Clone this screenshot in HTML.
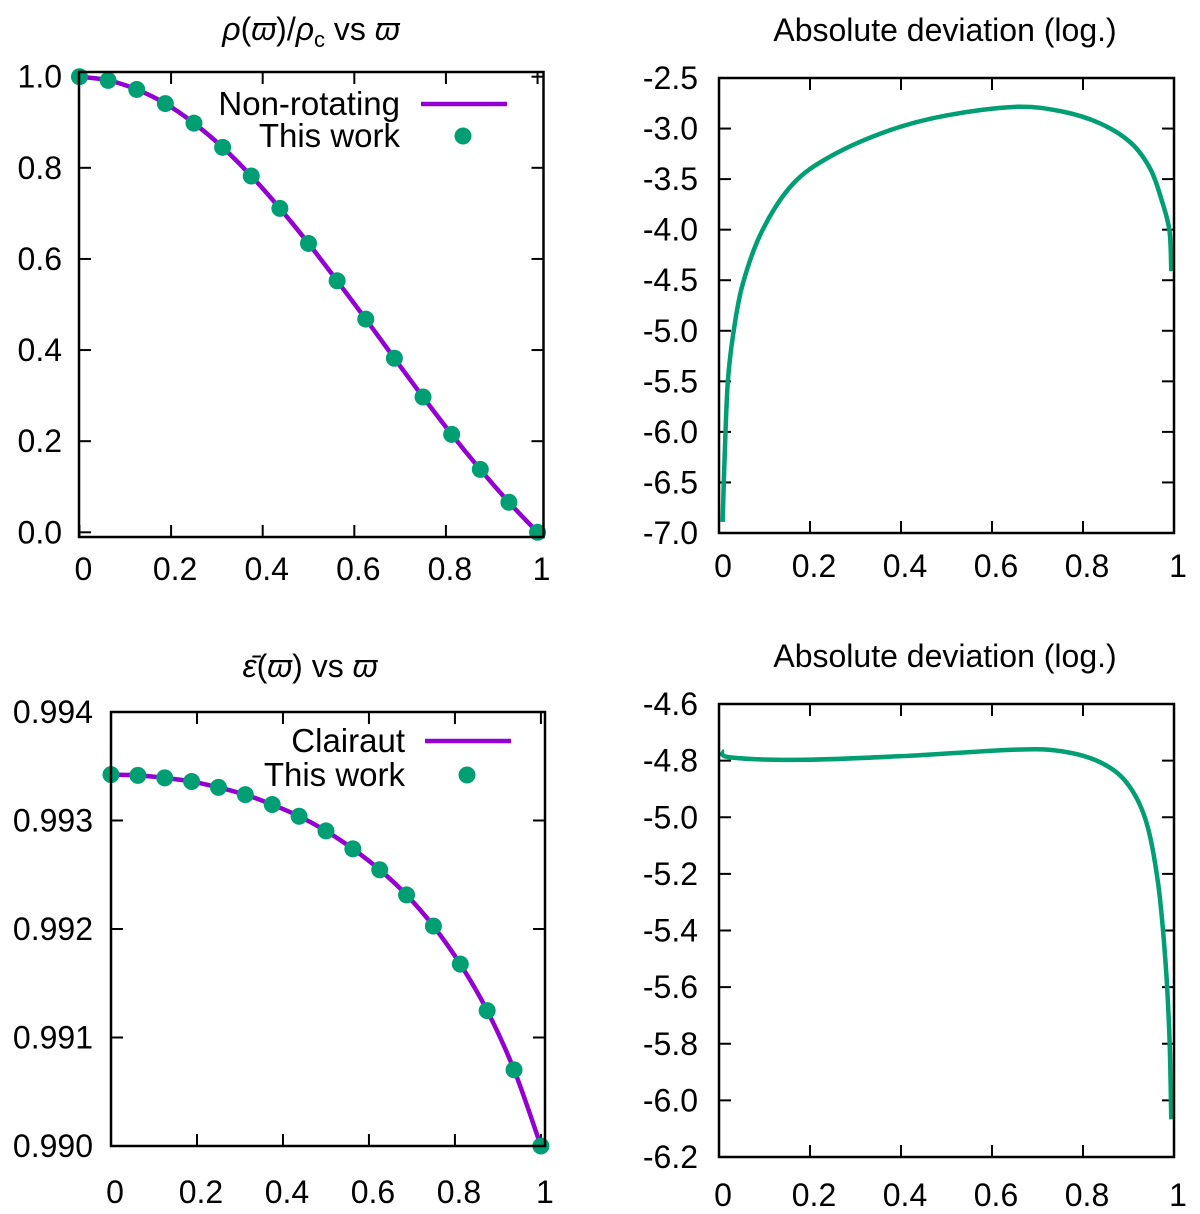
<!DOCTYPE html>
<html><head><meta charset="utf-8"><style>
html,body{margin:0;padding:0;background:#fff;}
svg{display:block;font-family:"Liberation Sans",sans-serif;}
</style></head><body>
<svg id="fig" width="1200" height="1214" viewBox="0 0 1200 1214" xmlns="http://www.w3.org/2000/svg"></svg>
<script>
// ---------- data ----------
const rhoX = [0,0.0625,0.125,0.1875,0.25,0.3125,0.375,0.4375,0.5,0.5625,0.625,0.6875,0.75,0.8125,0.875,0.9375,1];
const rhoRef = [1.0,0.992,0.972,0.941,0.898,0.845,0.782,0.711,0.634,0.552,0.468,0.382,0.297,0.215,0.138,0.066,0.0];
const rhoWork = [1.0,0.992,0.972,0.941,0.898,0.845,0.782,0.711,0.634,0.552,0.468,0.382,0.297,0.215,0.138,0.066,0.0];
const epsX = [0,0.0625,0.125,0.1875,0.25,0.3125,0.375,0.4375,0.5,0.5625,0.625,0.6875,0.75,0.8125,0.875,0.9375,1];
const epsRef = [0.993423,0.993416,0.993393,0.993359,0.993305,0.993238,0.993147,0.993039,0.992904,0.992739,0.992546,0.992314,0.992027,0.991676,0.991248,0.990702,0.990];
const epsWork = [0.993423,0.993416,0.993393,0.993359,0.993305,0.993238,0.993147,0.993039,0.992904,0.992739,0.992546,0.992314,0.992027,0.991676,0.991248,0.990702,0.990];
const devRhoX = [0.008,0.012,0.019,0.031,0.052,0.095,0.162,0.247,0.373,0.5,0.652,0.753,0.838,0.905,0.948,0.973,0.99,0.994];
const devRhoY = [-6.89,-6.30,-5.53,-5.04,-4.54,-4.01,-3.55,-3.27,-3.02,-2.87,-2.785,-2.83,-2.95,-3.14,-3.40,-3.71,-4.01,-4.41];
const devEpsX = [0.006,0.027,0.188,0.416,0.652,0.753,0.838,0.897,0.939,0.965,0.981,0.99,0.994];
const devEpsY = [-4.765,-4.789,-4.797,-4.783,-4.761,-4.767,-4.806,-4.88,-5.016,-5.233,-5.504,-5.776,-6.067];
const xTicks = [0,0.2,0.4,0.6,0.8,1];
const xTickLabels = ["0","0.2","0.4","0.6","0.8","1"];
const rhoYTicks = [0,0.2,0.4,0.6,0.8,1.0];
const rhoYLabels = ["0.0","0.2","0.4","0.6","0.8","1.0"];
const epsYTicks = [0.990,0.991,0.992,0.993,0.994];
const epsYLabels = ["0.990","0.991","0.992","0.993","0.994"];
const dRhoYTicks = [-7,-6.5,-6,-5.5,-5,-4.5,-4,-3.5,-3,-2.5];
const dRhoYLabels = ["-7.0","-6.5","-6.0","-5.5","-5.0","-4.5","-4.0","-3.5","-3.0","-2.5"];
const dEpsYTicks = [-6.2,-6.0,-5.8,-5.6,-5.4,-5.2,-5.0,-4.8,-4.6];
const dEpsYLabels = ["-6.2","-6.0","-5.8","-5.6","-5.4","-5.2","-5.0","-4.8","-4.6"];

const NS="http://www.w3.org/2000/svg";
const svg=document.getElementById('fig');
const PURPLE="#9400d3", GREEN="#009e73";
const FS=32;
function mk(tag,attrs,parent){const e=document.createElementNS(NS,tag);for(const k in attrs)e.setAttribute(k,attrs[k]);(parent||svg).appendChild(e);return e;}
function smoothPath(pts){
  let d="M"+pts[0][0].toFixed(2)+","+pts[0][1].toFixed(2);
  for(let i=0;i<pts.length-1;i++){
    const p0=pts[Math.max(i-1,0)],p1=pts[i],p2=pts[i+1],p3=pts[Math.min(i+2,pts.length-1)];
    const c1=[p1[0]+(p2[0]-p0[0])/6,p1[1]+(p2[1]-p0[1])/6];
    const c2=[p2[0]-(p3[0]-p1[0])/6,p2[1]-(p3[1]-p1[1])/6];
    d+=" C"+c1[0].toFixed(2)+","+c1[1].toFixed(2)+" "+c2[0].toFixed(2)+","+c2[1].toFixed(2)+" "+p2[0].toFixed(2)+","+p2[1].toFixed(2);
  }
  return d;
}
function panel(cfg){
  const g=mk('g',{});
  
  
  const sx=v=>cfg.x0+(v-cfg.xmin)/(cfg.xmax-cfg.xmin)*(cfg.x1-cfg.x0);
  const sy=v=>cfg.y1-(v-cfg.ymin)/(cfg.ymax-cfg.ymin)*(cfg.y1-cfg.y0);
  const tg=mk('g',{stroke:'#000','stroke-width':2},g);
  
  
  cfg.xt.forEach((v,i)=>{
    const x=sx(v);
    mk('line',{x1:x,y1:cfg.y1,x2:x,y2:cfg.y1-12},tg);
    mk('line',{x1:x,y1:cfg.y0,x2:x,y2:cfg.y0+12},tg);
    const t=mk('text',{x:x+4,y:cfg.xlabY,'text-anchor':'middle','font-size':FS,fill:'#000',stroke:'none'},g);
    t.textContent=cfg.xl[i];
    
    
  });
  cfg.yt.forEach((v,i)=>{
    const y=sy(v);
    mk('line',{x1:cfg.x0,y1:y,x2:cfg.x0+12,y2:y},tg);
    mk('line',{x1:cfg.x1,y1:y,x2:cfg.x1-12,y2:y},tg);
    const t=mk('text',{x:cfg.ylabX,y:y+11,'text-anchor':'end','font-size':FS,fill:'#000'},g);
    t.textContent=cfg.yl[i];
    
    
  });
  if(cfg.lx){
    const pts=cfg.lx.map((v,i)=>[sx(v),sy(cfg.ly[i])]);
    const p=mk('path',{d:smoothPath(pts),fill:'none',stroke:cfg.lc,'stroke-width':4.5,'stroke-linejoin':'round'},g);
    
    
  }
  if(cfg.px){
    cfg.px.forEach((v,i)=>{
      const c=mk('circle',{cx:sx(v),cy:sy(cfg.py[i]),r:8.5,fill:GREEN},g);
      
      
    });
  }
  const f=mk('rect',{x:cfg.x0,y:cfg.y0,width:cfg.x1-cfg.x0,height:cfg.y1-cfg.y0,fill:'none',stroke:'#000','stroke-width':2.5},g);
  
  
  const tt=mk('text',{x:cfg.titleX,y:cfg.titleY,'text-anchor':'middle','font-size':FS,fill:'#000'},g);
  tt.innerHTML=cfg.title;
  
  
  if(cfg.leg){
    const lg=mk('g',{},g);
    
    
    const a=mk('text',{x:cfg.leg.tx,y:cfg.leg.y1+11,'text-anchor':'end','font-size':33,fill:'#000'},lg);
    a.textContent=cfg.leg.label;
    
    
    mk('line',{x1:cfg.leg.lx1,y1:cfg.leg.y1,x2:cfg.leg.lx2,y2:cfg.leg.y1,stroke:PURPLE,'stroke-width':4.5},lg);
    const b=mk('text',{x:cfg.leg.tx,y:cfg.leg.y2+11,'text-anchor':'end','font-size':33,fill:'#000'},lg);
    b.textContent='This work';
    
    
    mk('circle',{cx:cfg.leg.dx,cy:cfg.leg.y2,r:8.5,fill:GREEN},lg);
  }
}
panel({name:'density-panel',x0:79,x1:543.5,y0:72,y1:537,xmin:-0.001,xmax:1.013,ymin:-0.0103,ymax:1.0103,
  xt:xTicks,xl:xTickLabels,yt:rhoYTicks,yl:rhoYLabels,xlabY:580,ylabX:62,
  lx:rhoX,ly:rhoRef,lc:PURPLE,px:rhoX,py:rhoWork,
  titleX:311,titleY:40,title:'<tspan font-style="italic">ρ</tspan>(<tspan font-style="italic">ϖ</tspan>)/<tspan font-style="italic">ρ</tspan><tspan font-size="22" dy="7">c</tspan><tspan dy="-7"> vs </tspan><tspan font-style="italic">ϖ</tspan>',
  leg:{label:'Non-rotating',tx:400,y1:104,y2:136,lx1:421,lx2:507,dx:463}});
panel({name:'density-deviation-panel',x0:719,x1:1174,y0:78,y1:533,xmin:0,xmax:1,ymin:-7,ymax:-2.5,
  xt:xTicks,xl:xTickLabels,yt:dRhoYTicks,yl:dRhoYLabels,xlabY:577,ylabX:698,
  lx:devRhoX,ly:devRhoY,lc:GREEN,
  titleX:945,titleY:41,title:'Absolute deviation (log.)'});
panel({name:'ellipticity-panel',x0:111,x1:545,y0:712,y1:1146,xmin:0,xmax:1.0095,ymin:0.990,ymax:0.994,
  xt:xTicks,xl:xTickLabels,yt:epsYTicks,yl:epsYLabels,xlabY:1203,ylabX:93,
  lx:epsX,ly:epsRef,lc:PURPLE,px:epsX,py:epsWork,
  titleX:310,titleY:677,title:'<tspan font-style="italic">ε̄</tspan>(<tspan font-style="italic">ϖ</tspan>) vs <tspan font-style="italic">ϖ</tspan>',
  leg:{label:'Clairaut',tx:405,y1:741,y2:775,lx1:425,lx2:511,dx:467}});
panel({name:'ellipticity-deviation-panel',x0:719,x1:1174,y0:704,y1:1157,xmin:0,xmax:1,ymin:-6.2,ymax:-4.6,
  xt:xTicks,xl:xTickLabels,yt:dEpsYTicks,yl:dEpsYLabels,xlabY:1206,ylabX:698,
  lx:devEpsX,ly:devEpsY,lc:GREEN,
  titleX:945,titleY:667,title:'Absolute deviation (log.)'});
</script>
</body></html>
